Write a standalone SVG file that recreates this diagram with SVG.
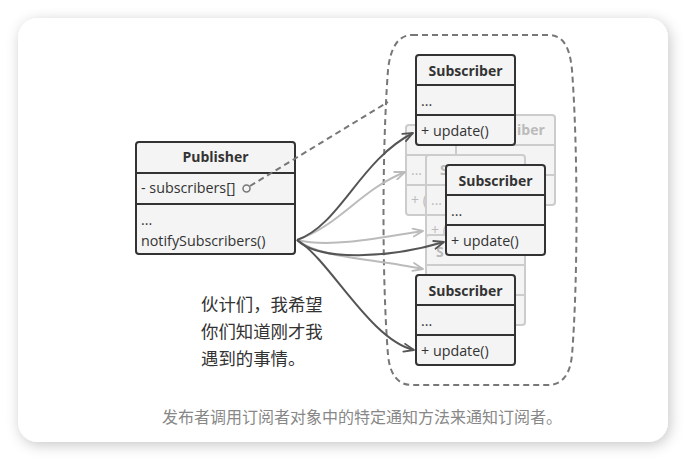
<svg xmlns="http://www.w3.org/2000/svg" width="687" height="460" viewBox="0 0 687 460">
<defs>
<filter id="sh" x="-10%" y="-10%" width="120%" height="120%">
<feDropShadow dx="2" dy="3" stdDeviation="7" flood-color="#000" flood-opacity="0.22"/>
</filter>
<marker id="ad" viewBox="0 0 12 10" refX="11" refY="5" markerWidth="12" markerHeight="10" markerUnits="userSpaceOnUse" orient="auto">
<path d="M1,1 L11,5 L1,9" fill="none" stroke="#555" stroke-width="1.8" stroke-linecap="round" stroke-linejoin="round"/>
</marker>
<marker id="al" viewBox="0 0 12 10" refX="11" refY="5" markerWidth="12" markerHeight="10" markerUnits="userSpaceOnUse" orient="auto">
<path d="M1,1 L11,5 L1,9" fill="none" stroke="#bbb" stroke-width="1.8" stroke-linecap="round" stroke-linejoin="round"/>
</marker>
</defs>
<style>
.box{fill:#f4f4f4;stroke:#333;stroke-width:2}
.ln{stroke:#333;stroke-width:2}
.gbox{fill:#f4f4f4;stroke:#ccc;stroke-width:2}
.gln{stroke:#ccc;stroke-width:2}
.t{font-family:"Open Sans","Noto Sans",sans-serif;font-size:14.3px;fill:#333}
.tb{font-family:"Open Sans","Noto Sans",sans-serif;font-size:14px;font-weight:bold;fill:#333;text-anchor:middle}
.gt{font-family:"Open Sans","Noto Sans",sans-serif;font-size:14px;fill:#bbb}
.gtb{font-family:"Open Sans","Noto Sans",sans-serif;font-size:14px;font-weight:bold;fill:#bbb}
.cjk{font-family:"Noto Sans CJK SC","Noto Sans",sans-serif;font-size:17.4px;fill:#333}
.cap{font-family:"Noto Sans CJK SC","Noto Sans",sans-serif;font-size:16px;fill:#888;text-anchor:middle}
.dk{fill:none;stroke:#555;stroke-width:2;marker-end:url(#ad)}
.lt{fill:none;stroke:#bbb;stroke-width:2;marker-end:url(#al)}
</style>
<rect x="0" y="0" width="687" height="460" fill="#fff"/>
<rect x="18" y="18" width="650" height="424" rx="20" fill="#fff" filter="url(#sh)"/>

<path id="group-outline" d="M412 35 H548 C565 35 570 50 572 70 C578 150 578 280 572 355 C570 375 562 385 548 385 H412 C398 385 390 375 388 355 C382 280 382 150 388 70 C390 50 397 35 412 35 Z" fill="none" stroke="#777" stroke-width="2" stroke-dasharray="6 4"/>

<g id="ghost2">
<rect class="gbox" x="406" y="125" width="99" height="90" rx="3"/>
<line class="gln" x1="406" y1="155" x2="505" y2="155"/>
<line class="gln" x1="406" y1="185" x2="505" y2="185"/>
<text class="gt" x="411" y="175">...</text>
<text class="gt" x="411" y="205">+ (</text>
</g>
<g id="ghost1">
<rect class="gbox" x="456" y="115" width="99" height="90" rx="3"/>
<line class="gln" x1="456" y1="145" x2="555" y2="145"/>
<line class="gln" x1="456" y1="175" x2="555" y2="175"/>
<text class="gtb" x="517" y="135">iber</text>
</g>
<g id="ghost3">
<rect class="gbox" x="426" y="155" width="99" height="90" rx="3"/>
<line class="gln" x1="426" y1="185" x2="525" y2="185"/>
<line class="gln" x1="426" y1="215" x2="525" y2="215"/>
<text class="gtb" x="440" y="175">S</text>
<text class="gt" x="431" y="205">...</text>
<text class="gt" x="431" y="235">+ (</text>
</g>
<g id="ghost4">
<rect class="gbox" x="426" y="235" width="99" height="90" rx="3"/>
<line class="gln" x1="426" y1="265" x2="525" y2="265"/>
<line class="gln" x1="426" y1="295" x2="525" y2="295"/>
<text class="gtb" x="436" y="257">S</text>
</g>

<g id="publisher">
<rect class="box" x="136" y="142" width="159" height="112" rx="3"/>
<line class="ln" x1="136" y1="173" x2="295" y2="173"/>
<line class="ln" x1="136" y1="204" x2="295" y2="204"/>
<text class="tb" x="215.5" y="162">Publisher</text>
<text class="t" x="141" y="193">- subscribers[]</text>
<text class="t" x="141" y="225">...</text>
<text class="t" x="141" y="246">notifySubscribers()</text>
</g>

<g id="connectors">
<path d="M250 186 L388 102" fill="none" stroke="#777" stroke-width="2" stroke-dasharray="6 4"/>
<circle cx="246.5" cy="188.5" r="3.5" fill="#f4f4f4" stroke="#777" stroke-width="1.5"/>
<path class="lt" d="M297 240 C340 225 360 190 405 172"/>
<path class="lt" d="M297 240 C330 248 380 238 423 231"/>
<path class="lt" d="M297 240 C320 258 370 258 423 269"/>
<path class="dk" d="M297 240 C340 225 360 160 413 133"/>
<path class="dk" d="M297 240 C320 262 390 258 444 242"/>
<path class="dk" d="M297 240 C330 260 370 340 414 350"/>
</g>

<g id="subscriber1">
<rect class="box" x="416" y="55" width="99" height="90" rx="3"/>
<line class="ln" x1="416" y1="85" x2="515" y2="85"/>
<line class="ln" x1="416" y1="115" x2="515" y2="115"/>
<text class="tb" x="465.5" y="76">Subscriber</text>
<text class="t" x="421" y="106">...</text>
<text class="t" x="421" y="136">+ update()</text>
</g>
<g id="subscriber2">
<rect class="box" x="446" y="165" width="99" height="90" rx="3"/>
<line class="ln" x1="446" y1="195" x2="545" y2="195"/>
<line class="ln" x1="446" y1="225" x2="545" y2="225"/>
<text class="tb" x="495.5" y="186">Subscriber</text>
<text class="t" x="451" y="216">...</text>
<text class="t" x="451" y="246">+ update()</text>
</g>
<g id="subscriber3">
<rect class="box" x="416" y="275" width="99" height="90" rx="3"/>
<line class="ln" x1="416" y1="305" x2="515" y2="305"/>
<line class="ln" x1="416" y1="335" x2="515" y2="335"/>
<text class="tb" x="465.5" y="296">Subscriber</text>
<text class="t" x="421" y="326">...</text>
<text class="t" x="421" y="356">+ update()</text>
</g>

<g id="speech">
<text class="cjk" x="201" y="311">伙计们，我希望</text>
<text class="cjk" x="201" y="338">你们知道刚才我</text>
<text class="cjk" x="201" y="365">遇到的事情。</text>
</g>
<text class="cap" x="362" y="423">发布者调用订阅者对象中的特定通知方法来通知订阅者。</text>
</svg>
